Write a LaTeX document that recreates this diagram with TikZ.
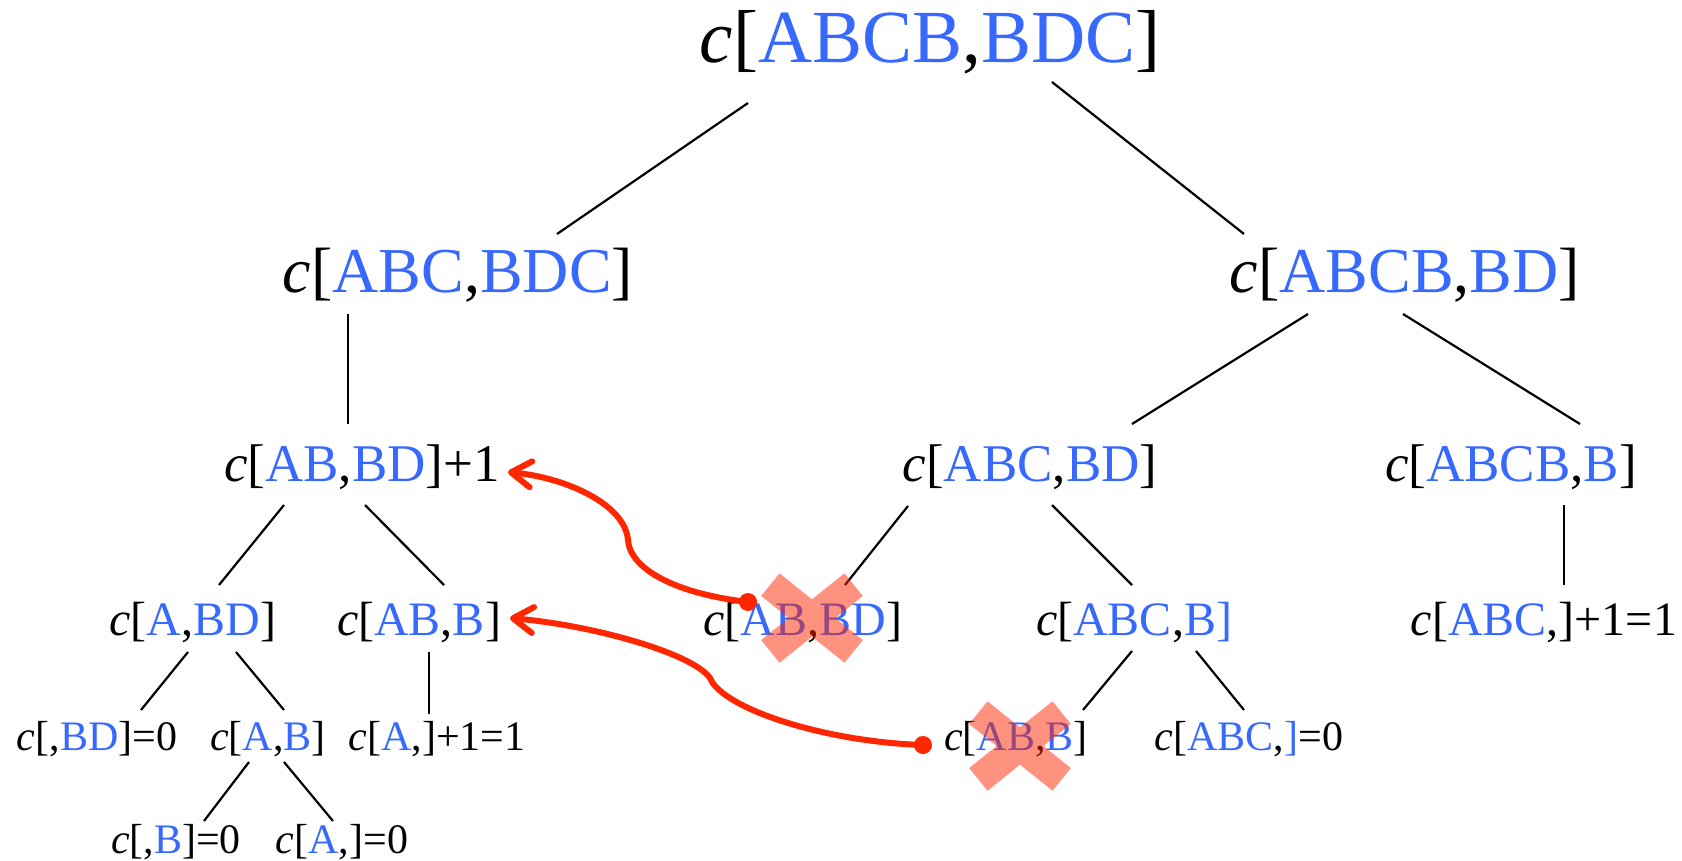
\documentclass[tikz,border=0pt]{standalone}
\usepackage{fontspec}
\setmainfont{Liberation Serif}
\usetikzlibrary{arrows.meta}
\definecolor{cblue}{RGB}{55,105,255}
\definecolor{cred}{RGB}{255,38,0}
\newcommand{\blu}[1]{\textcolor{cblue}{#1}}
\newcommand{\cvar}{\textit{c}}
\tikzset{
  lbl/.style={inner sep=0pt, anchor=base},
  fA/.style={lbl, font=\fontsize{75}{80}\selectfont},
  fB/.style={lbl, font=\fontsize{64}{70}\selectfont},
  fC/.style={lbl, font=\fontsize{53}{60}\selectfont},
  fD/.style={lbl, font=\fontsize{48}{54}\selectfont},
  fE/.style={lbl, font=\fontsize{42}{48}\selectfont},
  conn/.style={draw=black, line width=2.2pt},
  redcurve/.style={draw=cred, line width=6pt, line cap=round,
    -{Straight Barb[round, length=20pt, width=26pt]}},
  xfill/.style={fill=cred, fill opacity=0.5},
  xcross/.pic={\fill[xfill] (-50.8,22) -- (-32.5,44.7) -- (50.8,-22) -- (32.5,-44.7) -- cycle
     (32.5,44.7) -- (50.8,22) -- (-32.5,-44.7) -- (-50.8,-22) -- cycle;}
}
\begin{document}
\begin{tikzpicture}[x=1pt, y=1pt]
\useasboundingbox (0,0) rectangle (1682,-860);
% nodes
\node[fA] (top) at (930,-62) {\cvar[\blu{ABCB},\blu{BDC}]};
\node[fB] (l2a) at (458,-292) {\cvar[\blu{ABC},\blu{BDC}]};
\node[fB] (l2b) at (1405,-292) {\cvar[\blu{ABCB},\blu{BD}]};
\node[fC] (l3a) at (362,-481) {\cvar[\blu{AB},\blu{BD}]+1};
\node[fC] (l3b) at (1030,-481) {\cvar[\blu{ABC},\blu{BD}]};
\node[fC] (l3c) at (1511,-481) {\cvar[\blu{ABCB},\blu{B}]};
\node[fD] (l4a) at (193,-635) {\cvar[\blu{A},\blu{BD}]};
\node[fD] (l4b) at (419,-635) {\cvar[\blu{AB},\blu{B}]};
\node[fD] (l4c) at (803,-635) {\cvar[\blu{AB},\blu{BD}]};
\node[fD] (l4d) at (1134,-635) {\cvar[\blu{ABC},\blu{B]}};
\node[fD] (l4e) at (1544,-635) {\cvar[\blu{ABC},]+1=1};
\node[fE] (l5a) at (97,-750) {\cvar[,\blu{BD}]=0};
\node[fE] (l5b) at (268,-750) {\cvar[\blu{A},\blu{B}]};
\node[fE] (l5c) at (437,-750) {\cvar[\blu{A},]+1=1};
\node[fE] (l5d) at (1016,-750) {\cvar[\blu{AB},\blu{B}]};
\node[fE] (l5e) at (1249,-750) {\cvar[\blu{ABC},\blu{]}=0};
\node[fE] (l6a) at (176,-853) {\cvar[,\blu{B}]=0};
\node[fE] (l6b) at (342,-853) {\cvar[\blu{A},]=0};
% tree edges
\draw[conn] ([shift={(-182,-41)}]top.base) -- ([shift={(99,58)}]l2a.base);
\draw[conn] ([shift={(122,-20)}]top.base) -- ([shift={(-161,58)}]l2b.base);
\draw[conn] ([shift={(-110,-22)}]l2a.base) -- ([shift={(-14,57)}]l3a.base);
\draw[conn] ([shift={(-97,-22)}]l2b.base) -- ([shift={(102,57)}]l3b.base);
\draw[conn] ([shift={(-2,-22)}]l2b.base) -- ([shift={(69,57)}]l3c.base);
\draw[conn] ([shift={(-78,-24)}]l3a.base) -- ([shift={(26,50)}]l4a.base);
\draw[conn] ([shift={(3,-24)}]l3a.base) -- ([shift={(25,50)}]l4b.base);
\draw[conn] ([shift={(-122,-25)}]l3b.base) -- ([shift={(42,50)}]l4c.base);
\draw[conn] ([shift={(22,-24)}]l3b.base) -- ([shift={(-2,50)}]l4d.base);
\draw[conn] ([shift={(53,-24)}]l3c.base) -- ([shift={(20,50)}]l4e.base);
\draw[conn] ([shift={(-5,-17)}]l4a.base) -- ([shift={(44,40)}]l5a.base);
\draw[conn] ([shift={(43,-17)}]l4a.base) -- ([shift={(16,40)}]l5b.base);
\draw[conn] ([shift={(10,-17)}]l4b.base) -- ([shift={(-8,36)}]l5c.base);
\draw[conn] ([shift={(-2,-16)}]l4d.base) -- ([shift={(67,40)}]l5d.base);
\draw[conn] ([shift={(62,-16)}]l4d.base) -- ([shift={(-5,40)}]l5e.base);
\draw[conn] ([shift={(-19,-12)}]l5b.base) -- ([shift={(28,32)}]l6a.base);
\draw[conn] ([shift={(16,-12)}]l5b.base) -- ([shift={(-9,32)}]l6b.base);
% crosses
\pic at ([shift={(9,17)}]l4c.base) {xcross};
\pic at ([shift={(4,4)}]l5d.base) {xcross};
% red arrows
\coordinate (d1) at ([shift={(-55,33)}]l4c.base);
\coordinate (t1) at ([shift={(146,9)}]l3a.base);
\coordinate (m1) at (628,-540);
\coordinate (d2) at ([shift={(-93,5)}]l5d.base);
\coordinate (t2) at ([shift={(91,17)}]l4b.base);
\coordinate (m2) at (712,-682);
\draw[redcurve] (d1) .. controls (678,-594) and (630,-570) .. (m1) .. controls (625,-505) and (568,-478) .. (t1);
\draw[redcurve] (d2) .. controls (830,-742) and (732,-712) .. (m2) .. controls (704,-657) and (600,-626) .. (t2);
\fill[cred] (d1) circle (9);
\fill[cred] (d2) circle (9);
\end{tikzpicture}
\end{document}
